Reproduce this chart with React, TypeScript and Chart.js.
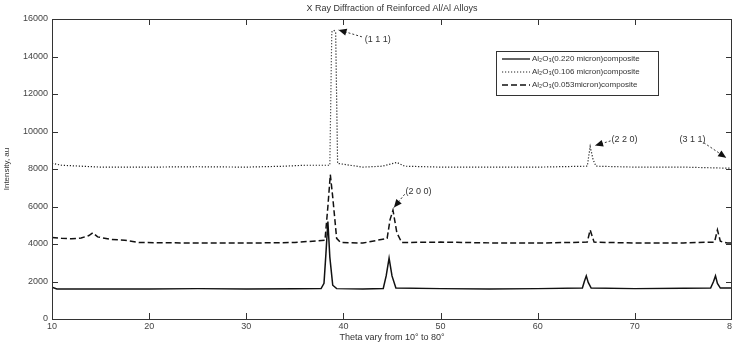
import React, { useEffect, useRef } from "react";
import { Chart, registerables } from "chart.js";
Chart.register(...registerables);

const chartTitle = "X Ray Diffraction of Reinforced Al/Al Alloys";
const xAxisTitle = "Theta vary from 10° to 80°";
const yAxisTitle = "Intensity, au";
const xMin = 10;
const xMax = 80;
const yMin = 0;
const yMax = 16000;
const xStep = 10;
const yStep = 2000;

const seriesLabels = [
  "Al₂O₃(0.220 micron)composite",
  "Al₂O₃(0.106 micron)composite",
  "Al₂O₃(0.053micron)composite",
];

const theta220 = [10, 10.5, 15, 20, 25, 30, 35, 37.7, 38.0, 38.2, 38.4, 38.6, 38.9, 39.3, 42, 44.1, 44.4, 44.7, 45.0, 45.4, 50, 55, 60, 64.6, 64.8, 65.0, 65.2, 65.5, 70, 75, 77.8, 78.1, 78.3, 78.5, 78.8, 80];
const int220 = [1700, 1600, 1600, 1600, 1620, 1600, 1610, 1620, 1900, 3500, 5200, 3300, 1800, 1620, 1600, 1630, 2300, 3250, 2300, 1650, 1620, 1600, 1620, 1650, 2000, 2300, 1950, 1650, 1620, 1640, 1650, 2000, 2300, 1900, 1650, 1650];

const theta106 = [10, 11, 13, 15, 20, 25, 30, 34, 36, 38.6, 38.8, 39.0, 39.2, 39.4, 42, 44, 45.5, 46.3, 50, 55, 60, 65.1, 65.4, 65.7, 66.0, 70, 75, 79, 80];
const int106 = [8300, 8200, 8150, 8100, 8100, 8120, 8100, 8150, 8200, 8200, 15300, 15400, 15300, 8300, 8100, 8150, 8350, 8150, 8100, 8100, 8100, 8150, 9200, 8500, 8150, 8100, 8100, 8050, 8050];

const theta053 = [10, 11, 12, 13, 13.8, 14.2, 14.7, 16, 17.5, 19, 25, 30, 35, 38.1, 38.4, 38.65, 38.9, 39.3, 39.7, 42, 44.5, 44.8, 45.1, 45.5, 46, 50, 55, 60, 65.1, 65.4, 65.8, 70, 75, 78.2, 78.5, 78.8, 79.5, 80];
const int053 = [4350, 4300, 4280, 4320, 4450, 4600, 4380, 4250, 4200, 4080, 4050, 4050, 4080, 4200, 6000, 7700, 6500, 4300, 4080, 4050, 4300, 5300, 5800, 4600, 4080, 4100, 4060, 4050, 4100, 4750, 4100, 4050, 4060, 4100, 4750, 4150, 4050, 4050];

// annotations: label, text anchor (theta, value), arrow start, arrow tip
const annLabels = ["(1 1 1)", "(2 0 0)", "(2 2 0)", "(3 1 1)"];
const annTextX = [42.2, 46.4, 67.6, 74.6];
const annTextY = [14930, 6800, 9560, 9560];
const annFromX = [41.9, 46.3, 67.5, 77.1];
const annFromY = [15050, 6650, 9500, 9400];
const annToX = [39.5, 45.2, 65.9, 79.4];
const annToY = [15420, 5950, 9250, 8600];

const colors = ["#111111", "#222222", "#111111"];
const dashes = [[], [1.2, 1.8], [6, 3]];

const FONT = "'Liberation Sans', Arial, sans-serif";

function toPts(xs: number[], ys: number[]) {
  return xs.map((x, i) => ({ x, y: ys[i] }));
}

const framePlugin = {
  id: "framePlugin",
  afterDraw(chart: any) {
    const { ctx, chartArea, scales } = chart;
    const { left, right, top, bottom } = chartArea;
    const xs = scales.x;
    const ys = scales.y;
    ctx.save();
    // box
    ctx.strokeStyle = "#333";
    ctx.lineWidth = 1;
    ctx.setLineDash([]);
    ctx.strokeRect(left + 0.5, top + 0.5, right - left - 1, bottom - top);
    // ticks inward
    ctx.beginPath();
    for (let v = xMin; v <= xMax; v += xStep) {
      const px = Math.round(xs.getPixelForValue(v)) + 0.5;
      ctx.moveTo(px, bottom);
      ctx.lineTo(px, bottom - 6);
      ctx.moveTo(px, top);
      ctx.lineTo(px, top + 6);
    }
    for (let v = yMin; v <= yMax; v += yStep) {
      const py = Math.round(ys.getPixelForValue(v)) + 0.5;
      ctx.moveTo(left, py);
      ctx.lineTo(left + 6, py);
      ctx.moveTo(right, py);
      ctx.lineTo(right - 6, py);
    }
    ctx.stroke();

    // title
    ctx.fillStyle = "#333";
    ctx.font = `9px ${FONT}`;
    ctx.textAlign = "center";
    ctx.textBaseline = "middle";
    ctx.fillText(chartTitle, (left + right) / 2, 9);

    // annotations
    ctx.font = `9px ${FONT}`;
    ctx.textAlign = "left";
    for (let i = 0; i < annLabels.length; i++) {
      const tx = xs.getPixelForValue(annTextX[i]);
      const ty = ys.getPixelForValue(annTextY[i]);
      ctx.fillStyle = "#333";
      ctx.fillText(annLabels[i], tx, ty);
      const fx = xs.getPixelForValue(annFromX[i]);
      const fy = ys.getPixelForValue(annFromY[i]);
      const ex = xs.getPixelForValue(annToX[i]);
      const ey = ys.getPixelForValue(annToY[i]);
      ctx.strokeStyle = "#333";
      ctx.setLineDash([2, 2]);
      ctx.beginPath();
      ctx.moveTo(fx, fy);
      ctx.lineTo(ex, ey);
      ctx.stroke();
      ctx.setLineDash([]);
      const ang = Math.atan2(ey - fy, ex - fx);
      const L = 8;
      const W = 3.5;
      const bx = ex - L * Math.cos(ang);
      const by = ey - L * Math.sin(ang);
      ctx.fillStyle = "#111";
      ctx.beginPath();
      ctx.moveTo(ex, ey);
      ctx.lineTo(bx + W * Math.sin(ang), by - W * Math.cos(ang));
      ctx.lineTo(bx - W * Math.sin(ang), by + W * Math.cos(ang));
      ctx.closePath();
      ctx.fill();
    }

    // legend
    const lx = 496;
    const ly = 51;
    const lw = 162;
    const lh = 44;
    ctx.fillStyle = "#fff";
    ctx.fillRect(lx, ly, lw, lh);
    ctx.strokeStyle = "#333";
    ctx.lineWidth = 1;
    ctx.strokeRect(lx + 0.5, ly + 0.5, lw, lh);
    for (let i = 0; i < seriesLabels.length; i++) {
      const ry = ly + 8 + i * 13;
      ctx.strokeStyle = colors[i];
      ctx.lineWidth = i === 1 ? 1 : 1.3;
      ctx.setLineDash(dashes[i]);
      ctx.beginPath();
      ctx.moveTo(lx + 6, ry);
      ctx.lineTo(lx + 34, ry);
      ctx.stroke();
      ctx.setLineDash([]);
      ctx.fillStyle = "#333";
      ctx.font = `8px ${FONT}`;
      ctx.textAlign = "left";
      ctx.fillText(seriesLabels[i], lx + 36, ry);
    }
    ctx.restore();
  },
};

export default function App() {
  const ref = useRef<HTMLCanvasElement | null>(null);
  useEffect(() => {
    if (!ref.current) return;
    const chart = new Chart(ref.current, {
      type: "line",
      data: {
        datasets: [
          {
            label: seriesLabels[0],
            data: toPts(theta220, int220),
            borderColor: colors[0],
            borderWidth: 1.5,
            borderDash: dashes[0],
            pointRadius: 0,
            tension: 0,
          },
          {
            label: seriesLabels[1],
            data: toPts(theta106, int106),
            borderColor: colors[1],
            borderWidth: 1.2,
            borderDash: dashes[1],
            pointRadius: 0,
            tension: 0,
          },
          {
            label: seriesLabels[2],
            data: toPts(theta053, int053),
            borderColor: colors[2],
            borderWidth: 1.5,
            borderDash: dashes[2],
            pointRadius: 0,
            tension: 0,
          },
        ],
      },
      options: {
        responsive: false,
        animation: false,
        layout: { padding: { top: 19, right: 0, left: 0, bottom: 0 } },
        plugins: {
          legend: { display: false },
          title: { display: false },
          tooltip: { enabled: false },
        },
        scales: {
          x: {
            type: "linear",
            min: xMin,
            max: xMax,
            grid: { display: false, drawTicks: false },
            border: { display: false },
            ticks: {
              stepSize: xStep,
              padding: 2,
              color: "#444",
              font: { size: 9, family: FONT },
              maxRotation: 0,
              callback: (v: any) => String(v),
            },
            title: {
              display: true,
              text: xAxisTitle,
              color: "#333",
              font: { size: 9, family: FONT },
              padding: { top: 0, bottom: 2 },
            },
            afterFit: (s: any) => {
              s.height = 26;
              s.paddingLeft = 0;
              s.paddingRight = 0;
            },
          },
          y: {
            type: "linear",
            min: yMin,
            max: yMax,
            grid: { display: false, drawTicks: false },
            border: { display: false },
            ticks: {
              stepSize: yStep,
              padding: 4,
              color: "#444",
              font: { size: 9, family: FONT },
              callback: (v: any) => String(v),
            },
            title: {
              display: true,
              text: yAxisTitle,
              color: "#333",
              font: { size: 8, family: FONT },
              padding: { top: 2, bottom: 0 },
            },
            afterFit: (s: any) => {
              s.width = 52;
              s.paddingTop = 0;
              s.paddingBottom = 0;
            },
          },
        },
      },
      plugins: [framePlugin],
    });
    return () => chart.destroy();
  }, []);
  return (
    <div style={{ position: "absolute", left: 0, top: 0, width: 732, height: 345, background: "#fff" }}>
      <canvas ref={ref} width={732} height={345} style={{ display: "block" }} />
    </div>
  );
}
